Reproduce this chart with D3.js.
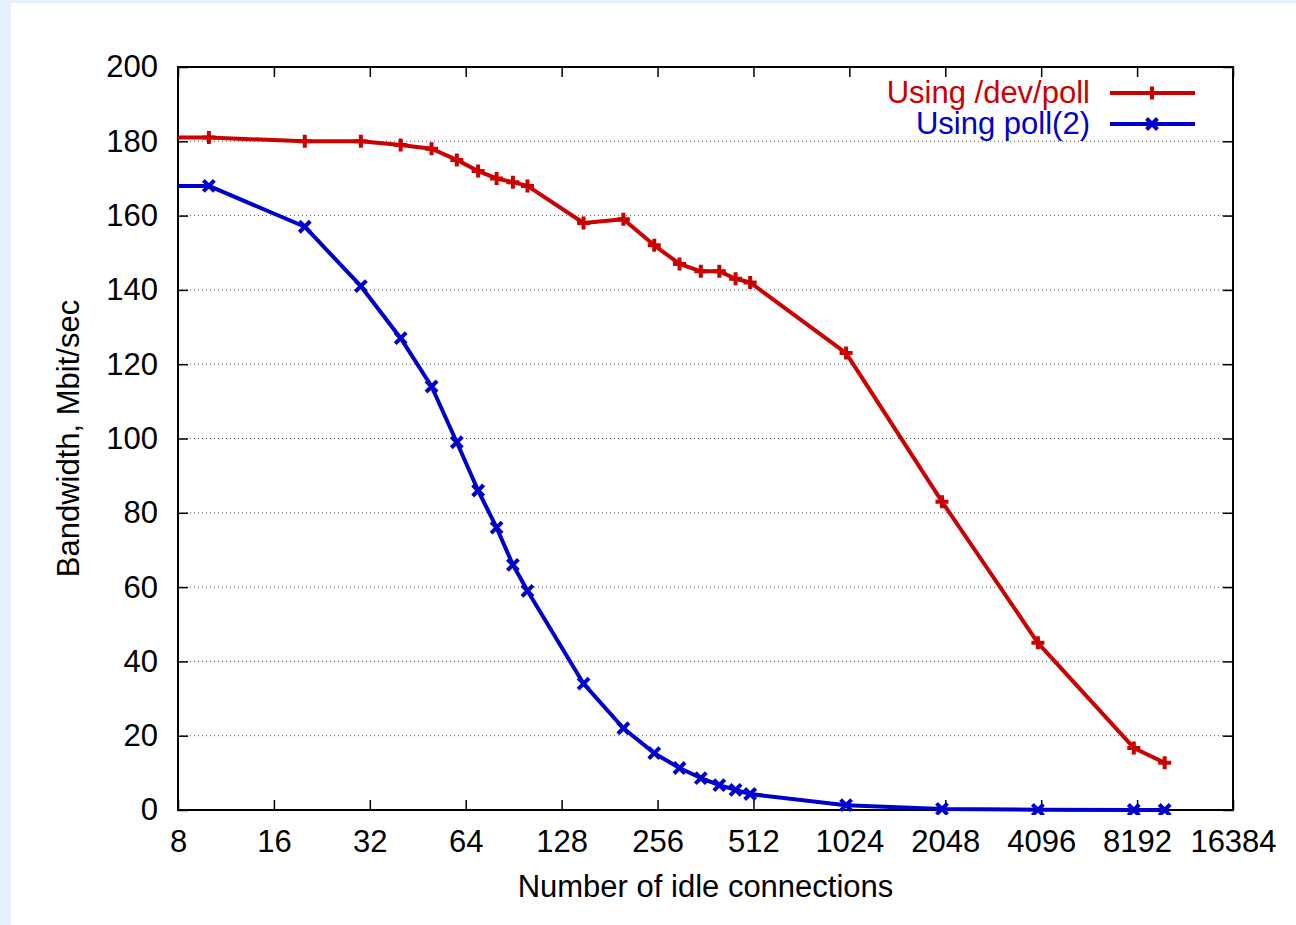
<!DOCTYPE html>
<html>
<head>
<meta charset="utf-8">
<script src="https://cdn.jsdelivr.net/npm/d3@7"></script>
<style>
  body { margin: 0; background: #e6f0fc; }
  svg { display: block; }
  text { font-family: "Liberation Sans", Arial, sans-serif; }
</style>
</head>
<body>
<svg></svg>
<script>
var svgWidth = 1296;
var svgHeight = 925;

// number of idle connections (first point is off the left edge, clipped)
var connections = [1, 10, 20, 30, 40, 50, 60, 70, 80, 90, 100, 150, 200, 250, 300, 350, 400, 450, 500, 1000, 2000, 4000, 8000, 10000];
var devPoll = [181, 181, 180, 180, 179, 178, 175, 172, 170, 169, 168, 158, 159, 152, 147, 145, 145, 143, 142, 123, 83, 45, 16.7, 12.7];
var pollTwo = [168, 168, 157, 141, 127, 114, 99, 86, 76, 66, 59, 34, 22, 15.3, 11.3, 8.6, 6.7, 5.4, 4.3, 1.3, 0.3, 0.05, 0, 0];

var xTicks = [8, 16, 32, 64, 128, 256, 512, 1024, 2048, 4096, 8192, 16384];
var yTicks = [0, 20, 40, 60, 80, 100, 120, 140, 160, 180, 200];
var gridTicks = [20, 40, 60, 80, 100, 120, 140, 160, 180];

var seriesNames = ["Using /dev/poll", "Using poll(2)"];
var seriesColors = ["#cc0000", "#0000cc"];

var plotLeft = 178, plotRight = 1233, plotTop = 67, plotBottom = 810;
var fontSize = "31px";

var svg = d3.select("svg")
    .attr("width", svgWidth)
    .attr("height", svgHeight);

svg.append("rect")
    .attr("x", 11).attr("y", 3)
    .attr("width", svgWidth).attr("height", svgHeight)
    .attr("fill", "#fff");

var x = d3.scaleLog().base(2).domain([8, 16384]).range([plotLeft, plotRight]);
var y = d3.scaleLinear().domain([0, 200]).range([plotBottom, plotTop]);

svg.append("clipPath").attr("id", "plot-clip")
  .append("rect")
    .attr("x", plotLeft).attr("y", plotTop - 5)
    .attr("width", plotRight - plotLeft).attr("height", plotBottom - plotTop + 10);

// dotted grid
svg.append("g")
  .selectAll("line")
  .data(gridTicks)
  .enter()
  .append("line")
    .attr("x1", plotLeft).attr("x2", plotRight)
    .attr("y1", function(d) { return y(d); })
    .attr("y2", function(d) { return y(d); })
    .attr("stroke", "#555")
    .attr("stroke-width", 1)
    .attr("stroke-dasharray", "1,3");

function styleAxis(g) {
  g.select(".domain").remove();
  g.selectAll(".tick line").attr("stroke", "#000").attr("stroke-width", 1.5);
  g.selectAll(".tick text")
    .attr("fill", "#000")
    .style("font-size", fontSize)
    .style("font-family", "'Liberation Sans', Arial, sans-serif");
}

svg.append("g")
    .attr("transform", "translate(0," + plotBottom + ")")
    .call(d3.axisBottom(x).tickValues(xTicks).tickFormat(d3.format("d"))
      .tickSizeInner(-10).tickSizeOuter(0).tickPadding(20))
    .call(styleAxis);

svg.append("g")
    .attr("transform", "translate(0," + plotTop + ")")
    .call(d3.axisTop(x).tickValues(xTicks).tickFormat("")
      .tickSizeInner(-10).tickSizeOuter(0))
    .call(styleAxis);

svg.append("g")
    .attr("transform", "translate(" + plotLeft + ",0)")
    .call(d3.axisLeft(y).tickValues(yTicks).tickFormat(d3.format("d"))
      .tickSizeInner(-10).tickSizeOuter(0).tickPadding(20))
    .call(styleAxis);

svg.append("g")
    .attr("transform", "translate(" + plotRight + ",0)")
    .call(d3.axisRight(y).tickValues(yTicks).tickFormat("")
      .tickSizeInner(-10).tickSizeOuter(0))
    .call(styleAxis);

// frame
svg.append("rect")
    .attr("x", plotLeft).attr("y", plotTop)
    .attr("width", plotRight - plotLeft).attr("height", plotBottom - plotTop)
    .attr("fill", "none")
    .attr("stroke", "#000")
    .attr("stroke-width", 2);

var series = [devPoll, pollTwo];

var line = d3.line()
    .x(function(d) { return x(d[0]); })
    .y(function(d) { return y(d[1]); });

function plusPath(s) {
  return "M" + (-s) + ",0H" + s + "M0," + (-s) + "V" + s;
}
function crossPath(s) {
  return "M" + (-s) + "," + (-s) + "L" + s + "," + s + "M" + (-s) + "," + s + "L" + s + "," + (-s);
}
var markers = [plusPath(6.5), crossPath(5.5)];

series.forEach(function(vals, i) {
  var pts = connections.map(function(c, j) { return [c, vals[j]]; });
  var g = svg.append("g").attr("clip-path", "url(#plot-clip)");
  g.append("path")
      .datum(pts)
      .attr("d", line)
      .attr("fill", "none")
      .attr("stroke", seriesColors[i])
      .attr("stroke-width", 4)
      .attr("stroke-linejoin", "round");
  g.selectAll(".mark")
    .data(pts.filter(function(p) { return p[0] >= 8; }))
    .enter()
    .append("path")
      .attr("transform", function(p) { return "translate(" + x(p[0]) + "," + y(p[1]) + ")"; })
      .attr("d", markers[i])
      .attr("stroke", seriesColors[i])
      .attr("stroke-width", 4)
      .attr("fill", "none");
});

// legend
var legend = svg.append("g");
seriesNames.forEach(function(name, i) {
  var ly = 93 + i * 31;
  legend.append("text")
      .attr("x", 1090).attr("y", ly + 10)
      .attr("text-anchor", "end")
      .attr("fill", seriesColors[i])
      .style("font-size", fontSize)
      .text(name);
  legend.append("line")
      .attr("x1", 1110).attr("x2", 1195)
      .attr("y1", ly).attr("y2", ly)
      .attr("stroke", seriesColors[i])
      .attr("stroke-width", 4);
  legend.append("path")
      .attr("transform", "translate(1152," + ly + ")")
      .attr("d", markers[i])
      .attr("stroke", seriesColors[i])
      .attr("stroke-width", 4)
      .attr("fill", "none");
});

// axis titles
svg.append("text")
    .attr("x", (plotLeft + plotRight) / 2).attr("y", 897)
    .attr("text-anchor", "middle")
    .style("font-size", fontSize)
    .text("Number of idle connections");

svg.append("text")
    .attr("transform", "translate(79," + ((plotTop + plotBottom) / 2) + ") rotate(-90)")
    .attr("text-anchor", "middle")
    .style("font-size", fontSize)
    .text("Bandwidth, Mbit/sec");
</script>
</body>
</html>
